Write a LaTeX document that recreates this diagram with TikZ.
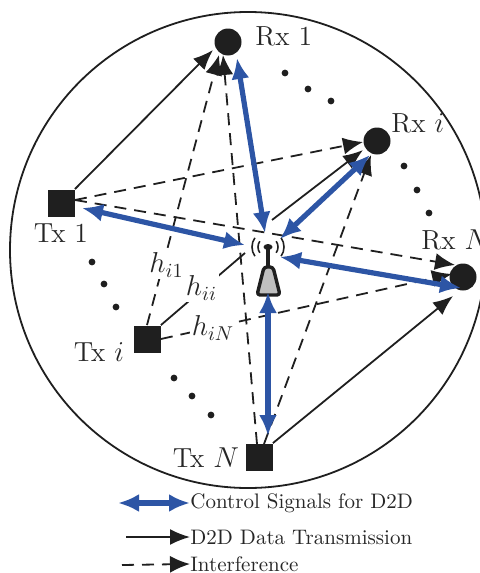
\documentclass[tikz,border=0pt]{standalone}
\usepackage{amsmath,amssymb}
\usepackage{xcolor}
\usetikzlibrary{positioning, calc, arrows.meta}
\usetikzlibrary{shapes.geometric}
\definecolor{ctrlblue}{RGB}{45,85,165}
\tikzset{
    rxnode/.style={circle, fill=black!88, minimum size=13.5pt, inner sep=0pt},
    txnode/.style={rectangle, fill=black!88, minimum size=13.5pt, inner sep=0pt},
    seqdot/.style={circle, fill=black!88, minimum size=3.4pt, inner sep=0pt},
    lbl/.style={font=\fontsize{13.8}{16}\selectfont, text=black!85, inner sep=0pt},
    chlbl/.style={lbl, fill=white, inner sep=1pt},
    leglbl/.style={font=\fontsize{10.5}{12}\selectfont, text=black!85, inner sep=0pt, anchor=west},
    data/.style={draw=black!88, line width=0.9pt, -{Latex[length=10pt,width=8pt]}},
    plain/.style={draw=black!88, line width=0.9pt},
    interf/.style={draw=black!88, line width=0.9pt, dash pattern=on 6pt off 4pt, -{Latex[length=10pt,width=8.5pt]}},
    ctrl/.style={draw=ctrlblue, line width=2.6pt, {Latex[length=10.5pt,width=9pt]}-{Latex[length=10.5pt,width=9pt]}},
}
\begin{document}
\begin{tikzpicture}[x=0.5pt, y=-0.5pt]

    \useasboundingbox (0,0) rectangle (480,573);
    \clip (0,0) rectangle (480,573);

    % --- Cell Boundary ---
    \node[draw=black!88, line width=0.9pt, circle, minimum size=238pt, inner sep=0pt] (cell) at (248,250) {};

    % --- Receivers ---
    \node[rxnode] (rxone) at (228,42) {};
    \node[rxnode] (rxi) at (377,141) {};
    \node[rxnode] (rxn) at (463,277) {};

    % --- Transmitters ---
    \node[txnode] (txone) at (61,203) {};
    \node[txnode] (txi) at (147,339) {};
    \node[txnode] (txn) at (259,457) {};

    % --- Node Labels ---
    \node[lbl, anchor=west] (lrxone) at (255,36) {Rx 1};
    \node[lbl, anchor=west] (lrxi) at (391,123) {Rx $i$};
    \node[lbl, anchor=west] (lrxn) at (421,240) {Rx $N$};
    \node[lbl] (ltxone) at (61,233) {Tx 1};
    \node[lbl] (ltxi) at (99,352) {Tx $i$};
    \node[lbl] (ltxn) at (206,458) {Tx $N$};

    % --- Sequence Dots ---
    \foreach \px/\py [count=\n] in {285/73, 308/89, 331/101, 404/166, 417/190, 429/213,
        92/262, 104/284, 116/307, 174/378, 192/396, 211/415} {
        \node[seqdot] (seq\n) at (\px,\py) {};
    }

    % --- Interference ---
    \coordinate (txonee) at (75,200);
    \coordinate (txna) at (257,444);
    \coordinate (txnb) at (264,444);
    \coordinate (rxonea) at (219,55);
    \coordinate (rxoneb) at (223,55);
    \coordinate (rxia) at (363,142);
    \coordinate (rxib) at (371,155);
    \coordinate (rxna) at (455,265);
    \coordinate (rxnb) at (452,274);
    \draw[interf] (txonee) -- (rxia);
    \draw[interf] (txonee) -- (rxna);
    \draw[interf] (txi.north) -- (rxonea);
    \draw[interf] (txi.east) -- (rxnb);
    \draw[interf] (txna) -- (rxoneb);
    \draw[interf] (txnb) -- (rxib);

    % --- D2D Data ---
    \coordinate (gapa) at (245,253);
    \coordinate (gapb) at (272,220);
    \coordinate (rxonec) at (213,50);
    \coordinate (rxic) at (363,150);
    \coordinate (rxnc) at (453,296);
    \draw[data] (txone.north east) -- (rxonec);
    \draw[plain] (txi.north east) -- (gapa);
    \draw[data] (gapb) -- (rxic);
    \draw[data] (txn.north east) -- (rxnc);

    % --- Channel Labels ---
    \node[chlbl] (hone) at (166.5,265) {$h_{i1}$};
    \node[chlbl] (hii) at (201.5,288) {$h_{ii}$};
    \node[chlbl] (hin) at (213,328) {$h_{iN}$};

    % --- Base Station ---
    \coordinate (bsfoot) at (268,292);
    \draw[black!88, line width=1.7pt, fill=black!25, line join=round, rounded corners=1.5pt]
        (264,267) -- (273,267) -- (280,295) -- (257,295) -- cycle;
    \draw[black!88, line width=2pt] (268,247) -- (268,266);
    \node[ellipse, fill=black!88, minimum width=4.5pt, minimum height=3pt, inner sep=0pt] (bs) at (268,247) {};
    \foreach \r in {10,16} {
        \draw[black!88, line width=0.8pt] (268,247) ++(215:\r) arc[start angle=145, end angle=215, radius=\r*0.5pt];
        \draw[black!88, line width=0.8pt] (268,247) ++(-35:\r) arc[start angle=35, end angle=-35, radius=\r*0.5pt];
    }

    % --- Control Signals ---
    \coordinate (bsa) at (265,233);
    \coordinate (bsb) at (280,239);
    \coordinate (bsc) at (280,257);
    \coordinate (bsd) at (245,245);
    \draw[ctrl] (rxone) ++(9,16) -- (bsa);
    \draw[ctrl] (rxi) ++(-7,14) -- (bsb);
    \draw[ctrl] (rxn) ++(-2,11) -- (bsc);
    \draw[ctrl] (txone) ++(21,5) -- (bsd);
    \draw[ctrl] (txn) ++(9,-21) -- (bsfoot);

    % --- Legend ---
    \node[leglbl] (legctrl) at (190,503) {Control Signals for D2D};
    \node[leglbl] (legdata) at (190,537) {D2D Data Transmission};
    \node[leglbl] (legint) at (190,564) {Interference};
    \coordinate (legctrlend) at (118,503);
    \coordinate (legdataend) at (126,537);
    \coordinate (legintend) at (122,565);
    \draw[ctrl] (legctrlend) -- (legctrl.west);
    \draw[data] (legdataend) -- (legdata.west);
    \draw[interf] (legintend) -- (legint.west);

\end{tikzpicture}
\end{document}
